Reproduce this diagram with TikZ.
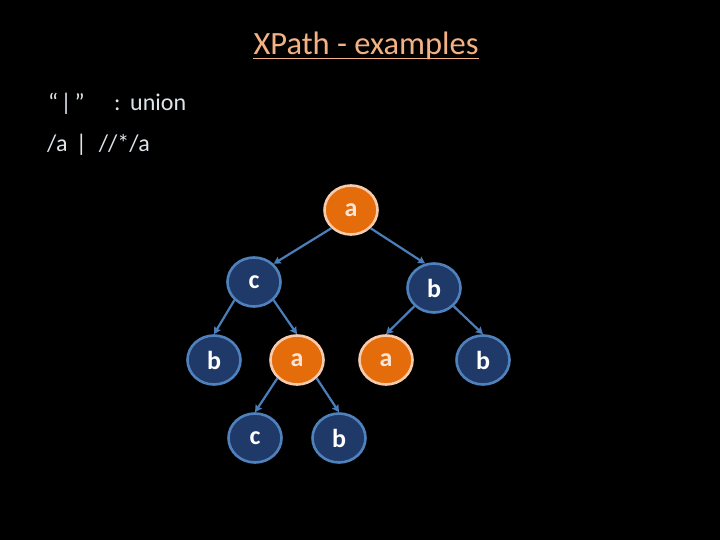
\documentclass[tikz,border=0pt]{standalone}
\usepackage{fontspec}
\setmainfont{Carlito}
\usetikzlibrary{shapes.geometric,arrows.meta}
\definecolor{titlecol}{HTML}{F4B183}
\definecolor{bodycol}{HTML}{DDE4EA}
\definecolor{navy}{HTML}{1F3A68}
\definecolor{navyedge}{HTML}{4F81BD}
\definecolor{orangefill}{HTML}{E46C0A}
\definecolor{orangeedge}{HTML}{F8CBAD}
\definecolor{orangetext}{HTML}{FBE5D6}
\definecolor{arrowcol}{HTML}{4A7EBB}
\tikzset{
  tnode/.style={ellipse, line width=2.6pt, minimum width=53pt, minimum height=49pt, inner sep=0pt,
    font=\fontsize{26}{28}\selectfont\bfseries},
  bluenode/.style={tnode, draw=navyedge, fill=navy, text=white},
  orangenode/.style={tnode, draw=orangeedge, fill=orangefill, text=orangetext},
  edge/.style={draw=arrowcol, line width=2.2pt, -{Stealth[length=7pt,width=7.5pt,inset=1pt]}},
  bodytext/.style={text=bodycol, inner sep=0pt, anchor=base west, font=\fontsize{24}{26}\selectfont}
}
\begin{document}
\begin{tikzpicture}[x=1pt,y=-1pt]
\fill[black] (0,0) rectangle (720,540);
\useasboundingbox (0,0) rectangle (720,540);

\node[text=titlecol, inner sep=0pt, anchor=base, font=\fontsize{32.5}{35}\selectfont] (title) at (366,54.5) {XPath - examples};
\draw[titlecol, line width=1.4pt] ([yshift=-4pt]title.base west) -- ([yshift=-4pt]title.base east);

\node[bodytext] (q) at (48,111) {“\hspace{0.1em}|\hspace{0.12em}”};
\node[bodytext] (u) at (114,111) {:\hspace{0.4em}union};
\node[bodytext] (ex) at (47,152) {/a\hspace{0.35em}|\hspace{0.5em}//*/a};

\node[orangenode] (r) at (351,210) {a};
\node[bluenode] (c1) at (254,282) {c};
\node[bluenode] (b1) at (434,288) {b};
\node[bluenode] (b2) at (214,360) {b};
\node[orangenode] (a2) at (297,360) {a};
\node[orangenode] (a3) at (386,360) {a};
\node[bluenode] (b3) at (483,360) {b};
\node[bluenode] (c4) at (255,438) {c};
\node[bluenode] (b4) at (339,438) {b};

\draw[edge] (r.south west) -- (c1.north east);
\draw[edge] (r.south east) -- (b1.110);
\draw[edge] (c1.south west) -- (b2.north);
\draw[edge] (c1.south east) -- (a2.north);
\draw[edge] (b1.south west) -- (a3.north);
\draw[edge] (b1.south east) -- (b3.north);
\draw[edge] (a2.south west) -- (c4.north);
\draw[edge] (a2.south east) -- (b4.north);
\end{tikzpicture}
\end{document}
